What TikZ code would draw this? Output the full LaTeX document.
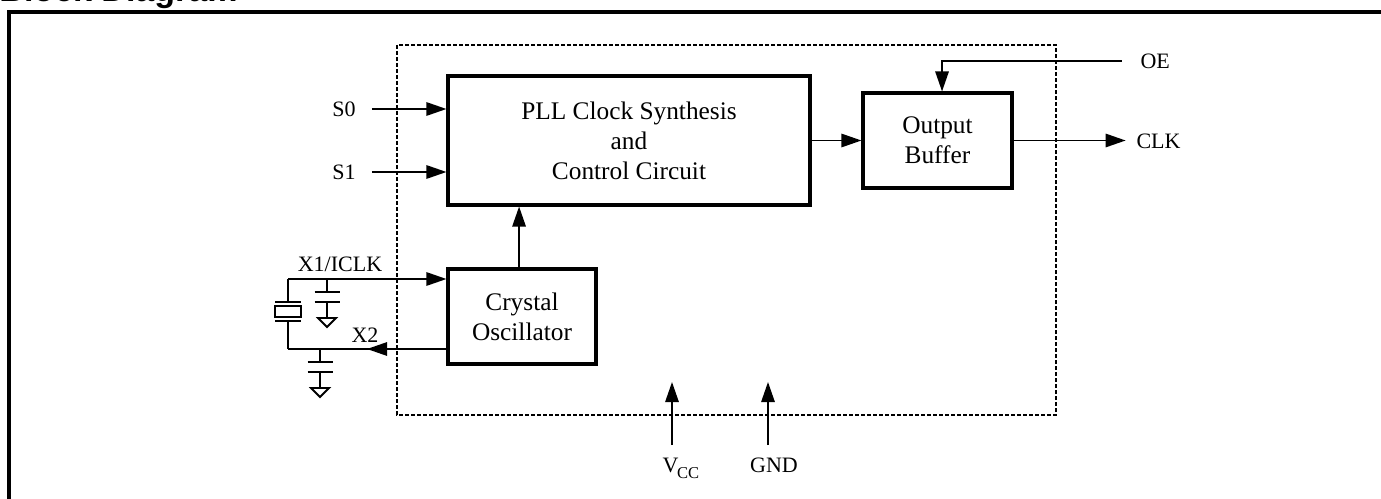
\documentclass[tikz,border=0pt]{standalone}
\usepackage{fontspec}
\setmainfont{Liberation Serif}
\newfontfamily\titlefont{Liberation Sans}
\usetikzlibrary{arrows.meta}

\newcommand{\boxfont}{\fontsize{19}{22.5}\selectfont}
\newcommand{\lblfont}{\fontsize{16.5}{19}\selectfont}

\tikzset{every picture/.style={line width=0.75pt}}
\tikzset{
  blk/.style={draw, line width=2.3pt, align=center, font=\boxfont, inner sep=0pt},
  sig/.style={line width=1.4pt, -{Triangle[length=15pt,width=10pt]}},
  wire/.style={line width=1.4pt},
  lbl/.style={inner sep=0.75pt, font=\lblfont},
  capgnd/.pic={
    \draw[wire] (0,0) -- (0,-13) (-12.5,-13) -- (12.5,-13) (-12.5,-23) -- (12.5,-23) (0,-23) -- (0,-39);
    \draw[wire] (-9,-39) -- (9,-39) -- (0,-48) -- cycle ;
  },
}

\begin{document}
\begin{tikzpicture}[x=0.75pt,y=0.75pt,yscale=-1,xscale=1]
\useasboundingbox (0,0) rectangle (1381,499);

% Title, cut by the page
\node[anchor=base west, inner sep=0, font={\titlefont\bfseries\fontsize{25.5}{26}\selectfont}] (title) at (-1,2) {Block Diagram};
%Frame
\draw[line width=2.3pt] (9,520) -- (9,12) -- (1400,12) ;

%Shape: Dashed chip outline
\draw[line width=1.2pt, dash pattern=on 3pt off 1.5pt] (397,45) rectangle (1056,415) ;

%Blocks
\node[blk, minimum width=271.5pt, minimum height=96.75pt] (pll) at (629,140.5) {PLL Clock Synthesis\\and\\Control Circuit};
\node[blk, minimum width=111.75pt, minimum height=71.25pt] (buf) at (937.5,140.5) {Output\\Buffer};
\node[blk, minimum width=111pt, minimum height=71.25pt] (osc) at (522,316.5) {Crystal\\Oscillator};

% Text Node
\node[lbl] (s0) at (344,109) {S0};
\node[lbl] (s1) at (344,172) {S1};
\node[lbl, anchor=west] (oe) at (1139,61) {OE};
\node[lbl, anchor=west] (clk) at (1135,141) {CLK};
\node[lbl] (x1lbl) at (340,264) {X1/ICLK};
\node[lbl] (x2lbl) at (365,335) {X2};
\node[lbl, anchor=base west] (vcc) at (661,472) {V\kern-1pt\raisebox{-4.5pt}{\fontsize{12.4}{13}\selectfont CC}};
\node[lbl, anchor=base] (gnd) at (774,472) {GND};

%Straight Lines
\draw[sig, shorten <=11pt] (s0.east) -- (s0 -| pll.west) ;
\draw[sig, shorten <=11pt] (s1.east) -- (s1 -| pll.west) ;
\draw[sig] (pll.east) -- (buf.west) ;
\draw[sig, shorten <=13pt] (oe.west) -| ([xshift=3.4pt]buf.north) ;
\draw[sig, shorten >=7pt] (buf.east) -- (buf.east -| clk.west) ;
\draw[sig] ([xshift=-2.2pt]osc.north) -- ([xshift=-2.2pt]osc.north |- pll.south) ;

%Crystal and load capacitors
\coordinate (x1) at (288,279);
\coordinate (x2) at (288,349);
\coordinate (x2tip) at (367,349);
\draw[sig] (x1) -- (x1 -| osc.west) ;
\draw[wire] (osc.west |- x2) -- (x2) ;
\draw[sig] (osc.west |- x2) -- (x2tip) ;
\draw[wire] (x1) -- (288,302) (275,302) -- (301,302) (275,321) -- (301,321) (288,321) -- (x2) ;
\draw[wire] (275,306) rectangle (301,317) ;
\pic at (327,279) {capgnd};
\pic at (320,349) {capgnd};

%Supply pins
\coordinate (vccB) at (672,445);
\coordinate (vccT) at (672,382);
\coordinate (gndB) at (768,445);
\coordinate (gndT) at (768,382);
\draw[sig] (vccB) -- (vccT) ;
\draw[sig] (gndB) -- (gndT) ;

\end{tikzpicture}
\end{document}
